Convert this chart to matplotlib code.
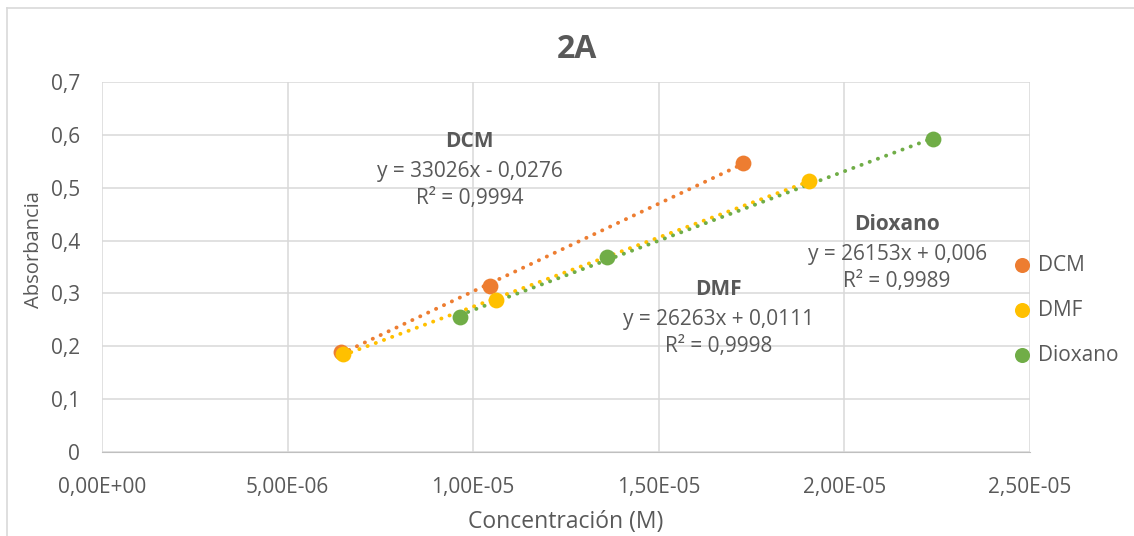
import matplotlib.pyplot as plt
import numpy as np
from matplotlib.ticker import FuncFormatter, MultipleLocator
from matplotlib.lines import Line2D

plt.rcParams['font.family'] = ['Open Sans', 'DejaVu Sans']

# data
dcm_x = [6.44e-6, 1.045e-5, 1.727e-5]
dcm_y = [0.189, 0.314, 0.547]
dmf_x = [6.49e-6, 1.061e-5, 1.905e-5]
dmf_y = [0.185, 0.288, 0.513]
diox_x = [9.64e-6, 1.360e-5, 2.239e-5]
diox_y = [0.255, 0.369, 0.592]

names = ["DCM", "DMF", "Dioxano"]
equations = ["y = 33026x - 0,0276", "y = 26263x + 0,0111", "y = 26153x + 0,006"]
r2_labels = ["R² = 0,9994", "R² = 0,9998", "R² = 0,9989"]
colors = ["#ED7D31", "#FFC000", "#70AD47"]
label_pos = [(0.991e-5, 0.588), (1.66e-5, 0.308), (2.142e-5, 0.431)]

grey = "#595959"

fig = plt.figure(figsize=(11.34, 5.36), dpi=100)
ax = fig.add_axes([102 / 1134, 1 - 452 / 536, 928 / 1134, 370 / 536])

series = [(dcm_x, dcm_y), (dmf_x, dmf_y), (diox_x, diox_y)]
for (xs, ys), name, col in zip(series, names, colors):
    xs = np.array(xs)
    ys = np.array(ys)
    # linear trendline over the data range
    m, b = np.polyfit(xs, ys, 1)
    xl = np.array([xs.min(), xs.max()])
    ax.plot(xl, m * xl + b, linestyle=(0, (0.05, 2.2)), color=col, linewidth=2.8,
            dash_capstyle='round', zorder=2)
    ax.scatter(xs, ys, s=130, color=col, zorder=3, label=name, linewidths=0)

for (lx, ly), name, eq, r2 in zip(label_pos, names, equations, r2_labels):
    ax.text(lx, ly, name, ha='center', va='center', fontsize=15, fontweight='bold', color=grey)
    ax.text(lx, ly - 0.057, eq, ha='center', va='center', fontsize=15, color=grey)
    ax.text(lx, ly - 0.109, r2, ha='center', va='center', fontsize=15, color=grey)

ax.set_xlim(0, 2.5e-5)
ax.set_ylim(0, 0.7)
ax.xaxis.set_major_locator(MultipleLocator(5e-6))
ax.yaxis.set_major_locator(MultipleLocator(0.1))


def xfmt(v, pos):
    s = f"{v:.2E}"
    return s.replace(".", ",")


def yfmt(v, pos):
    if abs(v) < 1e-9:
        return "0"
    return f"{v:.1f}".replace(".", ",")


ax.xaxis.set_major_formatter(FuncFormatter(xfmt))
ax.yaxis.set_major_formatter(FuncFormatter(yfmt))
ax.grid(True, color="#D9D9D9", linewidth=1.1)
ax.set_axisbelow(True)
for s in ["top", "right", "left"]:
    ax.spines[s].set_visible(False)
ax.spines["bottom"].set_color("#BFBFBF")
ax.tick_params(length=0, labelsize=15, colors=grey)
ax.tick_params(axis='x', pad=18)
ax.tick_params(axis='y', pad=16)

ax.set_xlabel("Concentración (M)", fontsize=16.5, color=grey)
ax.set_ylabel("Absorbancia", fontsize=14.5, color=grey)
ax.xaxis.set_label_coords(0.5, -0.157)
ax.yaxis.set_label_coords(-0.0625, 0.546)
fig.text(577 / 1134, 1 - 50 / 536, "2A", ha='center', va='center', fontsize=23,
         fontweight='bold', color=grey)

leg = fig.legend(loc='upper left', bbox_to_anchor=(982 / 1134, 1 - 236 / 536),
                 frameon=False, fontsize=15, labelspacing=1.15, handletextpad=-0.2,
                 markerscale=0.95, labelcolor=grey)

# chart border
fig.add_artist(Line2D([7 / 1134, 1], [1 - 8 / 536, 1 - 8 / 536], color="#D9D9D9", linewidth=1.2))
fig.add_artist(Line2D([7 / 1134, 7 / 1134], [0, 1 - 8 / 536], color="#D9D9D9", linewidth=1.2))

fig.savefig("out.png", dpi=100)
